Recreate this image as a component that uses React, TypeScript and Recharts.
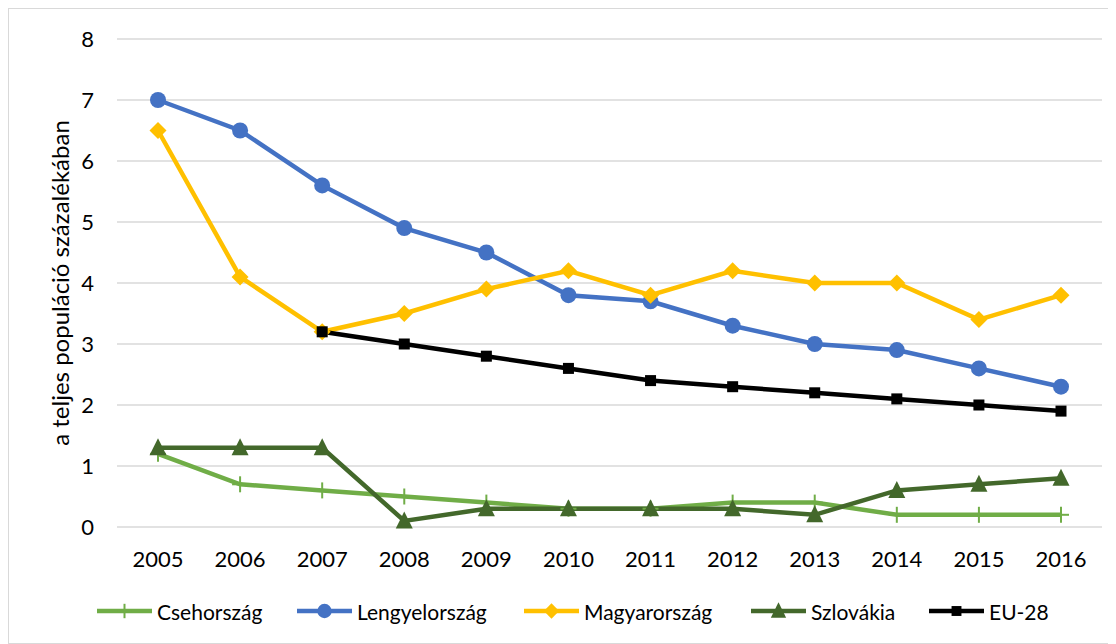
import React from "react"
import { LineChart, Line, XAxis, YAxis, CartesianGrid } from "recharts"

const years = ["2005", "2006", "2007", "2008", "2009", "2010", "2011", "2012", "2013", "2014", "2015", "2016"]
const csehorszag = [1.2, 0.7, 0.6, 0.5, 0.4, 0.3, 0.3, 0.4, 0.4, 0.2, 0.2, 0.2]
const lengyelorszag = [7.0, 6.5, 5.6, 4.9, 4.5, 3.8, 3.7, 3.3, 3.0, 2.9, 2.6, 2.3]
const magyarorszag = [6.5, 4.1, 3.2, 3.5, 3.9, 4.2, 3.8, 4.2, 4.0, 4.0, 3.4, 3.8]
const szlovakia = [1.3, 1.3, 1.3, 0.1, 0.3, 0.3, 0.3, 0.3, 0.2, 0.6, 0.7, 0.8]
const eu28 = [null, null, 3.2, 3.0, 2.8, 2.6, 2.4, 2.3, 2.2, 2.1, 2.0, 1.9]
const yTicks = [0, 1, 2, 3, 4, 5, 6, 7, 8]
const yLabel = "a teljes populáció százalékában"

const FONT = "Lato, 'Open Sans', sans-serif"

const C = {
  cseh: "#70ad47",
  lengyel: "#4472c4",
  magyar: "#ffc000",
  szlovak: "#43682b",
  eu: "#000000",
}

const data = years.map((y, i) => ({
  year: y,
  cseh: csehorszag[i],
  lengyel: lengyelorszag[i],
  magyar: magyarorszag[i],
  szlovak: szlovakia[i],
  eu: eu28[i],
}))

type Shape = "plus" | "circle" | "diamond" | "triangle" | "square"

function Marker({ cx, cy, shape, color, s = 1 }: { cx: number; cy: number; shape: Shape; color: string; s?: number }) {
  if (shape === "plus") {
    return (
      <g>
        <line x1={cx - 8 * s} x2={cx + 8 * s} y1={cy} y2={cy} stroke={color} strokeWidth={2} />
        <line x1={cx} x2={cx} y1={cy - 8 * s} y2={cy + 8 * s} stroke={color} strokeWidth={2} />
      </g>
    )
  }
  if (shape === "circle") return <circle cx={cx} cy={cy} r={8 * s} fill={color} />
  if (shape === "diamond") {
    const r = 8.5 * s
    return <polygon points={`${cx},${cy - r} ${cx + r},${cy} ${cx},${cy + r} ${cx - r},${cy}`} fill={color} />
  }
  if (shape === "triangle") {
    const r = 8.5 * s
    return <polygon points={`${cx},${cy - r - 1} ${cx + r},${cy + r - 1} ${cx - r},${cy + r - 1}`} fill={color} />
  }
  const h = 5.5 * s
  return <rect x={cx - h} y={cy - h} width={h * 2} height={h * 2} fill={color} />
}

function dotFor(shape: Shape, color: string) {
  return (p: any) => {
    if (p.cx == null || p.cy == null || p.value == null) return <g key={p.key ?? p.index} />
    return (
      <g key={p.key ?? p.index}>
        <Marker cx={p.cx} cy={p.cy} shape={shape} color={color} />
      </g>
    )
  }
}

const series: { key: string; name: string; color: string; shape: Shape }[] = [
  { key: "cseh", name: "Csehország", color: C.cseh, shape: "plus" },
  { key: "lengyel", name: "Lengyelország", color: C.lengyel, shape: "circle" },
  { key: "magyar", name: "Magyarország", color: C.magyar, shape: "diamond" },
  { key: "szlovak", name: "Szlovákia", color: C.szlovak, shape: "triangle" },
  { key: "eu", name: "EU-28", color: C.eu, shape: "square" },
]

// text slot widths in the legend, so the entries sit where Excel put them
const legendSlots = [108, 135, 135, 86, 61]

export default function App() {
  return (
    <div
      style={{
        position: "relative",
        width: 1104,
        height: 634,
        border: "1px solid #d9d9d9",
        fontFamily: FONT,
        background: "#fff",
      }}
    >
      <LineChart width={1104} height={634} data={data} margin={{ top: 30, right: 11, bottom: 76, left: 48 }}>
        <CartesianGrid vertical={false} stroke="#d9d9d9" strokeWidth={1.5} />
        <XAxis
          dataKey="year"
          padding={{ left: 41, right: 41 }}
          axisLine={false}
          tickLine={false}
          height={40}
          tickMargin={18}
          tick={{ fill: "#000", fontSize: 22, fontFamily: FONT }}
        />
        <YAxis
          domain={[0, 8]}
          ticks={yTicks}
          width={60}
          axisLine={false}
          tickLine={false}
          tickMargin={17}
          tick={{ fill: "#000", fontSize: 22, fontFamily: FONT }}
          label={{
            value: yLabel,
            content: (props: any) => {
              const vb = props.viewBox || {}
              const cy = vb.y + vb.height / 2
              return (
                <text
                  x={50}
                  y={cy}
                  transform={`rotate(-90, 50, ${cy})`}
                  textAnchor="middle"
                  dominantBaseline="central"
                  fontSize={24}
                  fontFamily={FONT}
                  fill="#000"
                >
                  {yLabel}
                </text>
              )
            },
          }}
        />
        {series.map(s => (
          <Line
            key={s.key}
            dataKey={s.key}
            name={s.name}
            stroke={s.color}
            strokeWidth={4.5}
            dot={dotFor(s.shape, s.color)}
            activeDot={false}
            isAnimationActive={false}
            type="linear"
          />
        ))}
      </LineChart>

      {/* Legend */}
      <div
        style={{
          position: "absolute",
          left: 88,
          top: 590,
          height: 24,
          display: "flex",
          alignItems: "center",
          gap: 32,
          fontSize: 21,
          color: "#000",
          whiteSpace: "nowrap",
        }}
      >
        {series.map((s, i) => (
          <div key={s.key} style={{ display: "flex", alignItems: "center", gap: 5 }}>
            <svg width={55} height={20} style={{ display: "block" }}>
              <line x1={0} x2={55} y1={10} y2={10} stroke={s.color} strokeWidth={4.5} />
              <Marker cx={27.5} cy={10} shape={s.shape} color={s.color} s={0.9} />
            </svg>
            <span style={{ display: "inline-block", width: legendSlots[i] }}>{s.name}</span>
          </div>
        ))}
      </div>
    </div>
  )
}
